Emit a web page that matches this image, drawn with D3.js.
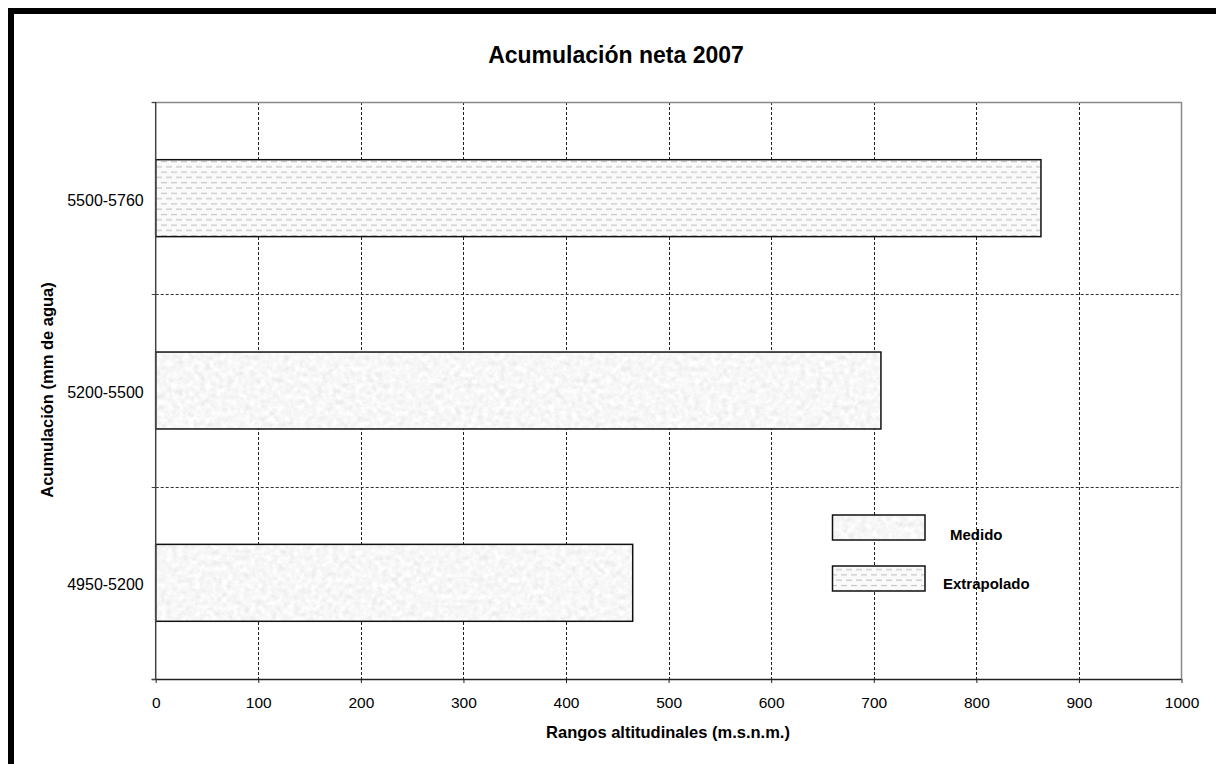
<!DOCTYPE html>
<html><head><meta charset="utf-8">
<script src="https://cdn.jsdelivr.net/npm/d3@7"></script>
<style>
html,body{margin:0;padding:0;background:#fff;}
svg{display:block;font-family:"Liberation Sans",Arial,sans-serif;}
</style></head>
<body><svg id="c" width="1216" height="764"></svg>
<script>
// ---- data ----
const categories = ["5500-5760", "5200-5500", "4950-5200"];
const values = [863, 707, 465];
const seriesType = ["Extrapolado", "Medido", "Medido"];
const xTicks = [0, 100, 200, 300, 400, 500, 600, 700, 800, 900, 1000];
const legendItems = ["Medido", "Extrapolado"];
const titleText = "Acumulación neta 2007";
const xLabel = "Rangos altitudinales (m.s.n.m.)";
const yLabel = "Acumulación (mm de agua)";

const svg = d3.select("#c");
const W = 1216, H = 764;
const plot = {left: 155.7, right: 1181.5, top: 102, bottom: 679};

// defs: patterns
const defs = svg.append("defs");
const f = defs.append("filter").attr("id","granite").attr("x",0).attr("y",0).attr("width",1).attr("height",1);
f.append("feTurbulence").attr("type","fractalNoise").attr("baseFrequency",0.18).attr("numOctaves",3).attr("seed",4).attr("result","n");
f.append("feColorMatrix").attr("in","n").attr("type","matrix")
 .attr("values","0.33 0.33 0.33 0 0  0.33 0.33 0.33 0 0  0.33 0.33 0.33 0 0  0 0 0 0 1")
 .attr("result","g");
f.append("feComponentTransfer").attr("in","g").attr("result","g2")
 .call(s=>{ ["feFuncR","feFuncG","feFuncB"].forEach(t=>s.append(t).attr("type","linear").attr("slope",0.45).attr("intercept",0.71)); });

const pat = defs.append("pattern").attr("id","dashes").attr("patternUnits","userSpaceOnUse")
  .attr("width",10).attr("height",10.6);
pat.append("rect").attr("width",10).attr("height",10.6).attr("fill","#fafafa");
pat.append("line").attr("x1",1).attr("x2",7).attr("y1",2.5).attr("y2",2.5).attr("stroke","#c4c4c4").attr("stroke-width",1.2);
pat.append("line").attr("x1",-4).attr("x2",2).attr("y1",7.8).attr("y2",7.8).attr("stroke","#c4c4c4").attr("stroke-width",1.2);
pat.append("line").attr("x1",6).attr("x2",12).attr("y1",7.8).attr("y2",7.8).attr("stroke","#c4c4c4").attr("stroke-width",1.2);

function fillFor(t){ return t === "Medido" ? "granite" : "dashes"; }

// border
svg.append("rect").attr("x",8).attr("y",8).attr("width",W).attr("height",6).attr("fill","#000");
svg.append("rect").attr("x",8).attr("y",8).attr("width",6).attr("height",H).attr("fill","#000");

const x = d3.scaleLinear().domain([0,1000]).range([plot.left, plot.right]);
const y = d3.scaleBand().domain(categories).range([plot.top, plot.bottom]).padding(0);
const step = y.step();

// gridlines vertical
svg.append("g").selectAll("line").data(xTicks.filter(d=>d>0 && d<1000)).join("line")
  .attr("x1",d=>Math.round(x(d))+0.5).attr("x2",d=>Math.round(x(d))+0.5)
  .attr("y1",plot.top).attr("y2",plot.bottom)
  .attr("stroke","#222").attr("stroke-dasharray","3,2").attr("stroke-width",1);
// gridlines horizontal at category boundaries
svg.append("g").selectAll("line").data(categories.slice(1)).join("line")
  .attr("x1",plot.left).attr("x2",plot.right)
  .attr("y1",d=>Math.round(y(d))+0.5).attr("y2",d=>Math.round(y(d))+0.5)
  .attr("stroke","#333").attr("stroke-dasharray","3,2").attr("stroke-width",1);
// top and right border of plot
svg.append("line").attr("x1",plot.left-4).attr("x2",plot.right).attr("y1",plot.top+0.5).attr("y2",plot.top+0.5).attr("stroke","#888").attr("stroke-width",1.5);
svg.append("line").attr("x1",plot.right).attr("x2",plot.right).attr("y1",plot.top).attr("y2",plot.bottom).attr("stroke","#888").attr("stroke-width",1.5);

// bars
const bars = svg.append("g");
categories.forEach((c,i)=>{
  const by = y(c) + step*0.3, bh = step*0.4;
  if (fillFor(seriesType[i]) === "granite") {
    bars.append("rect").attr("x",x(0)).attr("y",by).attr("width",x(values[i])-x(0)).attr("height",bh)
      .attr("filter","url(#granite)");
  } else {
    bars.append("rect").attr("x",x(0)).attr("y",by).attr("width",x(values[i])-x(0)).attr("height",bh)
      .attr("fill","url(#dashes)");
  }
  bars.append("rect").attr("x",x(0)).attr("y",by).attr("width",x(values[i])-x(0)).attr("height",bh)
    .attr("fill","none").attr("stroke","#111").attr("stroke-width",1.5);
});

// x axis
const xAxis = svg.append("g").attr("transform",`translate(0,${plot.bottom})`)
  .call(d3.axisBottom(x).tickValues(xTicks).tickSize(4).tickPadding(14).tickFormat(d3.format("d")));
xAxis.select(".domain").attr("stroke","#222").attr("stroke-width",1.5).attr("d",`M${plot.left-4},0.5H${plot.right}`);
xAxis.selectAll(".tick line").attr("stroke","#222");
xAxis.selectAll("text").attr("font-size",15.5).attr("fill","#000").attr("font-family","Liberation Sans, Arial, sans-serif");

// y axis
const yAxis = svg.append("g").attr("transform",`translate(${plot.left},0)`);
yAxis.append("line").attr("x1",0).attr("x2",0).attr("y1",plot.top).attr("y2",plot.bottom).attr("stroke","#444").attr("stroke-width",1.5);
const yTickPos = [plot.top].concat(categories.slice(1).map(c=>y(c))).concat([plot.bottom]);
yAxis.selectAll("line.t").data(yTickPos).join("line").attr("class","t")
  .attr("x1",-4).attr("x2",0).attr("y1",d=>Math.round(d)+0.5).attr("y2",d=>Math.round(d)+0.5).attr("stroke","#444");
yAxis.selectAll("text").data(categories).join("text")
  .attr("x",-12).attr("y",d=>y(d)+step/2+2).attr("dy","0.35em").attr("text-anchor","end")
  .attr("font-size",16).attr("fill","#000").text(d=>d);

// title & labels
svg.append("text").attr("x",616).attr("y",63).attr("text-anchor","middle").attr("font-size",23).attr("font-weight","bold").text(titleText);
svg.append("text").attr("x",668).attr("y",738).attr("text-anchor","middle").attr("font-size",16.5).attr("font-weight","bold").text(xLabel);
svg.append("text").attr("transform","translate(53,390) rotate(-90)").attr("text-anchor","middle").attr("font-size",16.5).attr("font-weight","bold").text(yLabel);

// legend
const lg = svg.append("g");
const lgY = [515, 566], lgTextX = [950, 943], lgTextY = [540, 589];
legendItems.forEach((t,i)=>{
  const r = lg.append("rect").attr("x",832.5).attr("y",lgY[i]).attr("width",92.5).attr("height",25);
  if (fillFor(t)==="granite") r.attr("filter","url(#granite)"); else r.attr("fill","url(#dashes)");
  lg.append("rect").attr("x",832.5).attr("y",lgY[i]).attr("width",92.5).attr("height",25).attr("fill","none").attr("stroke","#111").attr("stroke-width",1.5);
  lg.append("text").attr("x",lgTextX[i]).attr("y",lgTextY[i]).attr("font-size",15).attr("font-weight","bold").text(t);
});
</script></body></html>
